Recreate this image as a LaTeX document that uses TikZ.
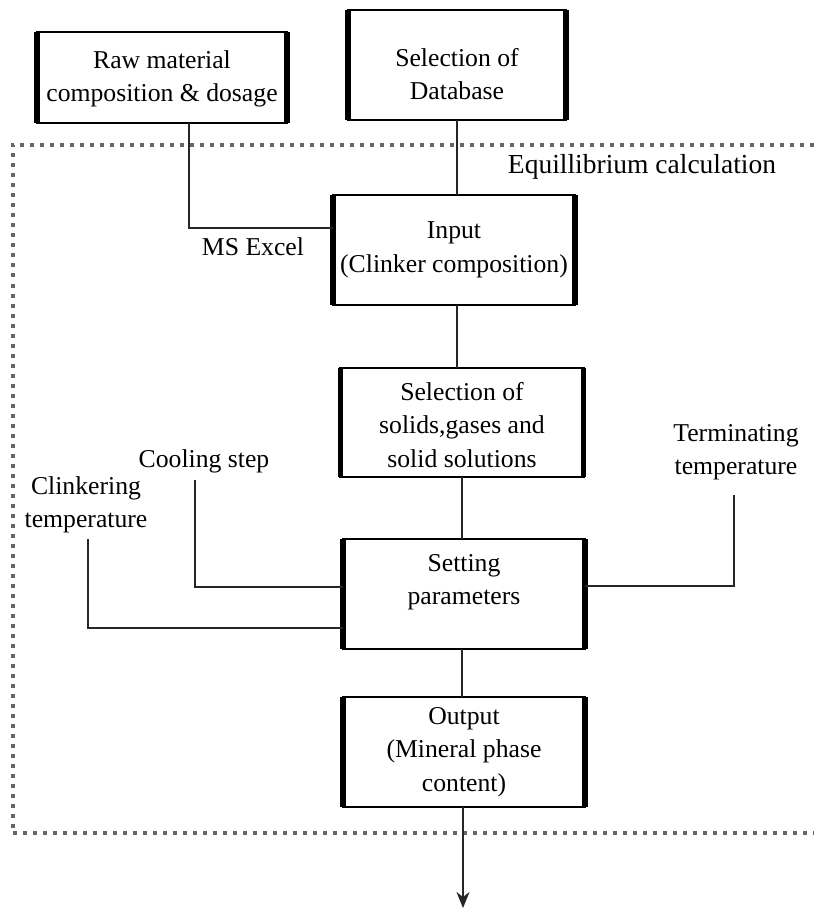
\documentclass[tikz,border=0pt]{standalone}
\usepackage{fontspec}
\setmainfont{Liberation Serif}
\usetikzlibrary{arrows.meta}
\begin{document}
\begin{tikzpicture}[x=1pt,y=-1pt,
  box/.style={draw, line width=2.5pt, outer sep=0pt, inner sep=0pt},
  side/.style={line width=5.5pt},
  txt/.style={align=center, font=\fontsize{25.7}{33.5}\selectfont, inner sep=0pt},
  conn/.style={line width=1.3pt, draw=black!85},
  dotframe/.style={draw=black!60, line width=4pt, dash pattern=on 4pt off 6pt}]
\useasboundingbox (0,0) rectangle (814,909);

% dotted frame
\coordinate (fTR) at (814,145);
\coordinate (fTL) at (12.5,145);
\coordinate (fBL) at (12.5,833);
\coordinate (fBR) at (814,833);
\draw[dotframe] (fTR) -- (fTL) -- (fBL) -- (fBR);

% boxes
\node[box, minimum width=250pt, minimum height=91pt]  (raw)     at (162,77.5) {};
\node[box, minimum width=218pt, minimum height=110pt] (db)      at (457,65)   {};
\node[box, minimum width=242pt, minimum height=110pt] (input)   at (454,250)  {};
\node[box, minimum width=243pt, minimum height=109pt] (solids)  at (462,422.5){};
\node[box, minimum width=242pt, minimum height=110pt] (setting) at (464,594)  {};
\node[box, minimum width=242pt, minimum height=110pt] (output)  at (464,752)  {};
\foreach \n in {raw,db,input,solids,setting,output}{
  \draw[side] (\n.north west) -- (\n.south west);
  \draw[side] (\n.north east) -- (\n.south east);
}

% box texts
\node[txt] (rawT)     at (162,79)    {Raw material\\composition \& dosage};
\node[txt] (dbT)      at (457,74)    {Selection of\\Database};
\node[txt] (inputT)   at (454,250)   {Input\\(Clinker composition)};
\node[txt] (solidsT)  at (462,425)   {Selection of\\solids,gases and\\solid solutions};
\node[txt] (settingT) at (464,582)   {Setting\\parameters};
\node[txt] (outputT)  at (464,752)   {Output\\(Mineral phase\\content)};

% labels
\node[txt] (excel) at (253,247) {MS Excel};
\node[txt, font=\fontsize{27.5}{33}\selectfont] (eq) at (642,167) {Equillibrium calculation};
\node[txt] (cool)  at (204,461) {Cooling step};
\node[txt] (clink) at (86,505)  {Clinkering\\temperature};
\node[txt] (term)  at (736,452) {Terminating\\temperature};

% connectors
\coordinate (excelBend) at (189,228);
\draw[conn] (raw.south -| excelBend) |- (input.west |- excelBend);
\draw[conn] (db.south) -- (db.south |- input.north);
\draw[conn] ([xshift=3pt]input.south) -- ([xshift=3pt]input.south |- solids.north);
\draw[conn] (solids.south) -- (solids.south |- setting.north);
\draw[conn] ([xshift=-2pt]setting.south) -- ([xshift=-2pt]setting.south |- output.north);

\coordinate (coolTop) at (195,480);
\coordinate (coolY) at (0,587);
\draw[conn] (coolTop) |- (setting.west |- coolY);
\coordinate (clinkTop) at (88,539);
\coordinate (clinkY) at (0,628);
\draw[conn] (clinkTop) |- (setting.west |- clinkY);
\coordinate (termTop) at (734,495);
\coordinate (termY) at (0,586);
\draw[conn] (setting.east |- termY) -| (termTop);

\coordinate (arrowEnd) at (463,908);
\draw[conn, -{Stealth[length=16pt,width=13pt,inset=5pt]}] (output.south -| arrowEnd) -- (arrowEnd);
\end{tikzpicture}
\end{document}
